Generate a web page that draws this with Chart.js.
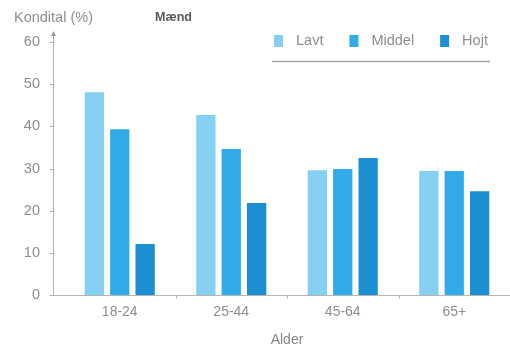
<!DOCTYPE html>
<html>
<head>
<meta charset="utf-8">
<script src="https://cdn.jsdelivr.net/npm/chart.js@4.4.1/dist/chart.umd.min.js"></script>
<style>
  html, body { margin: 0; padding: 0; background: #ffffff; }
  #wrap { width: 510px; height: 349px; }
</style>
</head>
<body>
<div id="wrap"><canvas id="chart" width="510" height="349"></canvas></div>
<script>
// Kondital by age group, men
const categories = ['18-24', '25-44', '45-64', '65+'];
const seriesNames = ['Lavt', 'Middel', 'Hojt'];
const lavt   = [48.1, 42.7, 29.6, 29.4];
const middel = [39.3, 34.6, 29.9, 29.4];
const hojt   = [12.1, 21.8, 32.5, 24.6];
const yTicks = [0, 10, 20, 30, 40, 50, 60];

const seriesColors = ['#84cff2', '#33aae8', '#1b8fd1'];
const FONT = "'Liberation Sans', Arial, sans-serif";
const AXIS = '#b4b4b4';
const TEXT = '#8e8e8e';

// Axis lines, headings and the legend drawn around the plot area
const decor = {
  id: 'decor',
  beforeDatasetsDraw(chart) {
    const { ctx, chartArea, scales } = chart;
    const y = scales.y, x = scales.x;
    const ax = chartArea.left - 10.5;
    const y0 = Math.round(y.getPixelForValue(0)) + 0.5;
    ctx.save();
    ctx.strokeStyle = AXIS;
    ctx.lineWidth = 1;
    // vertical axis with small arrow
    ctx.beginPath();
    ctx.moveTo(ax, chartArea.top - 9);
    ctx.lineTo(ax, y0);
    ctx.stroke();
    ctx.fillStyle = '#9a9a9a';
    ctx.beginPath();
    ctx.moveTo(ax, chartArea.top - 11);
    ctx.lineTo(ax - 2.5, chartArea.top - 6);
    ctx.lineTo(ax + 2.5, chartArea.top - 6);
    ctx.closePath();
    ctx.fill();
    // tick marks
    ctx.beginPath();
    yTicks.forEach(v => {
      const py = Math.round(y.getPixelForValue(v)) + 0.5;
      ctx.moveTo(ax - 4, py);
      ctx.lineTo(ax + 1, py);
    });
    ctx.stroke();
    // horizontal axis
    ctx.beginPath();
    ctx.moveTo(ax, y0);
    ctx.lineTo(chartArea.right, y0);
    ctx.stroke();
    // marks between age groups
    ctx.beginPath();
    const step = (chartArea.right - chartArea.left) / categories.length;
    for (let i = 1; i < categories.length; i++) {
      const px = Math.round(x.getPixelForValue(i) - step / 2) + 0.5;
      ctx.moveTo(px, y0);
      ctx.lineTo(px, y0 + 3);
    }
    ctx.stroke();
    ctx.restore();
  },
  afterDraw(chart) {
    const { ctx } = chart;
    ctx.save();
    ctx.textBaseline = 'middle';
    ctx.textAlign = 'left';
    // headings
    ctx.fillStyle = '#8e8e8e';
    ctx.font = `14.5px ${FONT}`;
    ctx.fillText('Kondital (%)', 14, 18);
    ctx.fillStyle = '#595959';
    ctx.font = `bold 13px ${FONT}`;
    ctx.fillText('Mænd', 155, 17.5, 37);
    // legend
    ctx.font = `14.5px ${FONT}`;
    let lx = 274;
    const ly = 41;
    chart.data.datasets.forEach(ds => {
      ctx.fillStyle = ds.backgroundColor;
      ctx.fillRect(lx, ly - 6, 9, 12);
      ctx.fillStyle = TEXT;
      ctx.fillText(ds.label, lx + 22, ly);
      lx += 22 + ctx.measureText(ds.label).width + 26;
    });
    ctx.strokeStyle = '#a6a6a6';
    ctx.lineWidth = 1.5;
    ctx.beginPath();
    ctx.moveTo(272, 61.5);
    ctx.lineTo(490, 61.5);
    ctx.stroke();
    ctx.restore();
  }
};

new Chart(document.getElementById('chart'), {
  type: 'bar',
  data: {
    labels: categories,
    datasets: [
      { label: seriesNames[0], data: lavt,   backgroundColor: seriesColors[0] },
      { label: seriesNames[1], data: middel, backgroundColor: seriesColors[1] },
      { label: seriesNames[2], data: hojt,   backgroundColor: seriesColors[2] }
    ]
  },
  options: {
    responsive: false,
    animation: false,
    devicePixelRatio: 1,
    layout: { padding: { top: 42, right: 0, bottom: 0, left: 0 } },
    datasets: { bar: { categoryPercentage: 0.683, barPercentage: 0.76 } },
    plugins: { legend: { display: false }, tooltip: { enabled: false } },
    scales: {
      x: {
        grid: { display: false, drawTicks: false },
        border: { display: false },
        ticks: { color: TEXT, font: { family: FONT, size: 14 }, padding: 9 },
        title: { display: true, text: 'Alder', color: '#858585',
                 font: { family: FONT, size: 14 }, padding: { top: 0, bottom: 0 } },
        afterFit(s) { s.height = 54; }
      },
      y: {
        min: 0, max: 60,
        afterBuildTicks(s) { s.ticks = yTicks.map(v => ({ value: v })); },
        grid: { display: false, drawTicks: false },
        border: { display: false },
        ticks: { color: TEXT, font: { family: FONT, size: 14.5 }, padding: 24 },
        afterFit(s) { s.width = 64; }
      }
    }
  },
  plugins: [decor]
});
</script>
</body>
</html>
